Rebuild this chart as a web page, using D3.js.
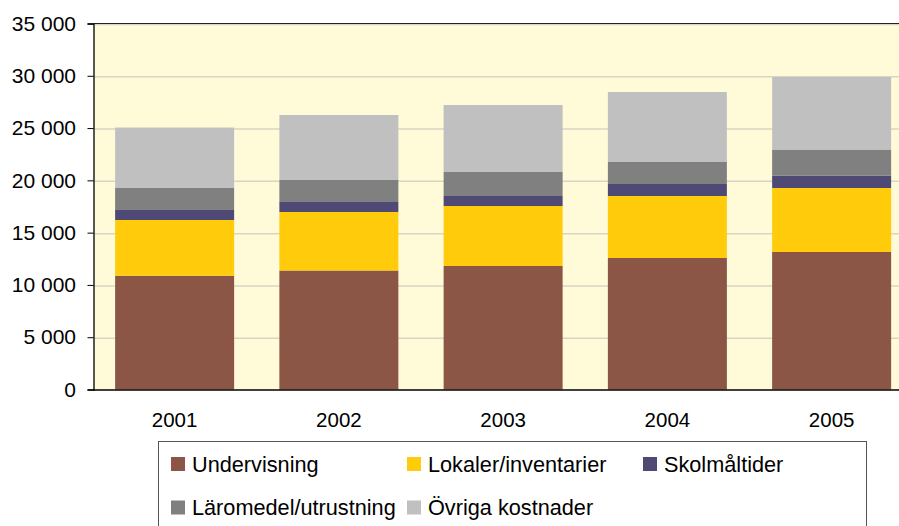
<!DOCTYPE html>
<html>
<head>
<meta charset="utf-8">
<script src="https://cdn.jsdelivr.net/npm/d3@7/dist/d3.min.js"></script>
<style>
  html, body { margin: 0; padding: 0; background: #ffffff; }
  svg { display: block; }
  text { font-family: Arial, "Liberation Sans", sans-serif; fill: #000; }
</style>
</head>
<body>
<svg id="chart" width="899" height="526"></svg>
<script>
const years = ["2001", "2002", "2003", "2004", "2005"];
const seriesNames = ["Undervisning", "Lokaler/inventarier", "Skolmåltider", "Läromedel/utrustning", "Övriga kostnader"];
const undervisning = [10880, 11380, 11810, 12575, 13150];
const lokaler = [5330, 5595, 5735, 5930, 6120];
const skolmaltider = [955, 955, 960, 1145, 1195];
const laromedel = [2105, 2105, 2295, 2105, 2485];
const ovriga = [5780, 6215, 6405, 6695, 6935];
const yTicks = [0, 5000, 10000, 15000, 20000, 25000, 30000, 35000];
const colors = ["#8c5646", "#ffcb0b", "#4f4a75", "#808080", "#c0c0c0"];

const seriesValues = [undervisning, lokaler, skolmaltider, laromedel, ovriga];
const table = years.map((yr, i) => {
  const row = { year: yr };
  seriesNames.forEach((s, j) => row[s] = seriesValues[j][i]);
  return row;
});

const svg = d3.select("#chart");
const pLeft = 93.5, pRight = 913.75, pTop = 23.5, pBottom = 389.5;

const x = d3.scaleBand().domain(years).range([pLeft - 1, pRight])
  .paddingInner(0.2755).paddingOuter(0.1377);
const y = d3.scaleLinear().domain([0, 35000]).range([pBottom, pTop]);
const fmt = v => d3.format(",")(v).replace(/,/g, " ");

// background
svg.append("rect").attr("x", pLeft).attr("y", pTop)
  .attr("width", pRight - pLeft).attr("height", pBottom - pTop)
  .attr("fill", "#fffad7");

// gridlines
svg.append("g").selectAll("line").data(yTicks.filter(t => t > 0)).join("line")
  .attr("x1", pLeft).attr("x2", pRight)
  .attr("y1", d => y(d) + 1).attr("y2", d => y(d) + 1)
  .attr("stroke", "#d9d5c4").attr("stroke-width", 1.5);

// top border
svg.append("line").attr("x1", pLeft).attr("x2", pRight)
  .attr("y1", pTop).attr("y2", pTop).attr("stroke", "#222").attr("stroke-width", 1.2);

// bars
const stack = d3.stack().keys(seriesNames)(table);
svg.append("g").selectAll("g").data(stack).join("g")
  .attr("fill", (d, i) => colors[i])
  .selectAll("rect").data(d => d).join("rect")
  .attr("x", d => x(d.data.year))
  .attr("width", x.bandwidth())
  .attr("y", d => y(d[1]))
  .attr("height", d => y(d[0]) - y(d[1]));

// y axis
const yAxis = d3.axisLeft(y).tickValues(yTicks).tickFormat(fmt).tickSize(6).tickPadding(11.5);
const gy = svg.append("g").attr("transform", `translate(${pLeft},0)`).call(yAxis);
gy.select(".domain").attr("stroke", "#000").attr("stroke-width", 1.3);
gy.selectAll(".tick line").attr("stroke", "#000");
gy.selectAll(".tick text").attr("font-size", 21).attr("font-family", "Arial, 'Liberation Sans', sans-serif").attr("fill", "#000");

// x axis
const xAxis = d3.axisBottom(x).tickSize(0).tickPadding(23);
const gx = svg.append("g").attr("transform", `translate(0,${pBottom})`).call(xAxis);
gx.select(".domain").attr("stroke", "#000").attr("stroke-width", 1.3);
gx.selectAll(".tick text").attr("font-size", 20.5).attr("font-family", "Arial, 'Liberation Sans', sans-serif").attr("fill", "#000");

// legend
svg.append("rect").attr("x", 158.5).attr("y", 441.5).attr("width", 708).attr("height", 120)
  .attr("fill", "#fff").attr("stroke", "#555").attr("stroke-width", 1);
const legendPos = [
  { x: 171, y: 464 }, { x: 407, y: 464 }, { x: 643, y: 464 },
  { x: 171, y: 507.5 }, { x: 407, y: 507.5 }
];
const lg = svg.append("g").selectAll("g").data(seriesNames).join("g")
  .attr("transform", (d, i) => `translate(${legendPos[i].x},${legendPos[i].y})`);
lg.append("rect").attr("x", 0).attr("y", -7).attr("width", 14).attr("height", 14)
  .attr("fill", (d, i) => colors[i]);
lg.append("text").attr("x", 21).attr("y", 0).attr("dy", "0.35em")
  .attr("font-size", 21.7).text(d => d);
</script>
</body>
</html>
